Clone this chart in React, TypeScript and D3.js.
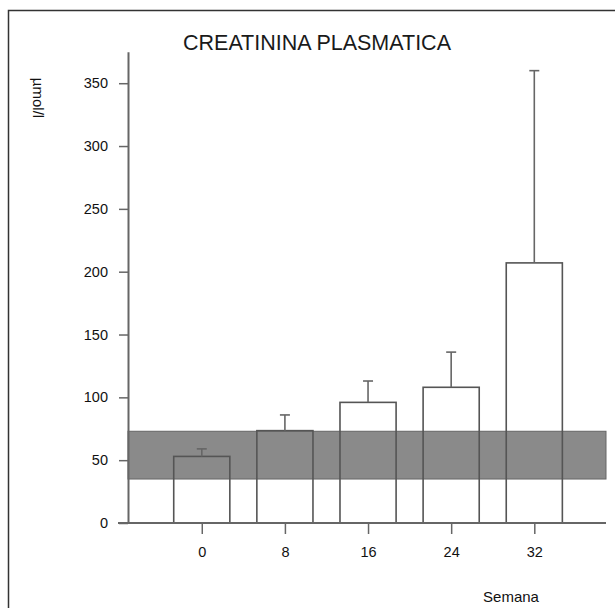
import * as d3 from "d3";
import { useEffect, useRef } from "react";

const weeks = [0, 8, 16, 24, 32];
const means = [53, 73.5, 96, 108, 207];
const sds = [6, 12.5, 17, 28, 153];
const yTicks = [0, 50, 100, 150, 200, 250, 300, 350];
const normalRange = [35, 73];

const App = () => {
  const ref = useRef<SVGSVGElement>(null);

  const width = 615;
  const height = 608;

  useEffect(() => {
    const svg = d3.select(ref.current);
    svg.selectAll("*").remove();

    const font = "'Liberation Sans', Arial, Helvetica, sans-serif";

    // x in weeks, y in umol/l
    const x = d3.scaleLinear().domain([-7.1, 38.9]).range([128, 606]);
    const y = d3.scaleLinear().domain([0, 375]).range([523, 51.8]);
    const barW = x(5.4) - x(0);

    // frame of the scanned figure
    svg.append("path")
      .attr("d", `M8.5,${height} V10.5 H${width}`)
      .attr("fill", "none")
      .attr("stroke", "#333")
      .attr("stroke-width", 1.5);

    svg.append("text")
      .attr("x", 317)
      .attr("y", 50)
      .attr("text-anchor", "middle")
      .attr("font-family", font)
      .attr("font-size", 21.5)
      .attr("fill", "#1a1a1a")
      .text("CREATININA PLASMATICA");

    // reference band
    svg.append("rect")
      .attr("x", x.range()[0])
      .attr("y", y(normalRange[1]))
      .attr("width", x.range()[1] - x.range()[0])
      .attr("height", y(normalRange[0]) - y(normalRange[1]))
      .attr("fill", "#8a8a8a")
      .attr("stroke", "#666")
      .attr("stroke-width", 1);

    // bars, drawn as outlines
    svg.append("g")
      .selectAll("rect")
      .data(weeks)
      .join("rect")
      .attr("x", (d) => x(d) - barW / 2)
      .attr("y", (d, i) => y(means[i]))
      .attr("width", barW)
      .attr("height", (d, i) => y(0) - y(means[i]))
      .attr("fill", "none")
      .attr("stroke", "#555")
      .attr("stroke-width", 1.6);

    // error bars (upper only)
    const err = svg.append("g").attr("stroke", "#666").attr("stroke-width", 1.6);
    weeks.forEach((w, i) => {
      err.append("line")
        .attr("x1", x(w)).attr("x2", x(w))
        .attr("y1", y(means[i])).attr("y2", y(means[i] + sds[i]));
      err.append("line")
        .attr("x1", x(w) - 5).attr("x2", x(w) + 5)
        .attr("y1", y(means[i] + sds[i])).attr("y2", y(means[i] + sds[i]));
    });

    // y axis
    const gy = svg.append("g")
      .attr("transform", `translate(${x.range()[0]},0)`)
      .call(d3.axisLeft(y).tickValues(yTicks).tickSize(9).tickPadding(11).tickSizeOuter(0));
    gy.select(".domain").attr("stroke", "#666").attr("stroke-width", 2);
    gy.selectAll(".tick line").attr("stroke", "#666").attr("stroke-width", 1.5);
    gy.selectAll(".tick text")
      .attr("font-family", font)
      .attr("font-size", 14.5)
      .attr("fill", "#111");

    // x axis
    const gx = svg.append("g")
      .attr("transform", `translate(0,${y(0)})`)
      .call(d3.axisBottom(x).tickValues(weeks).tickSize(11).tickPadding(13).tickSizeOuter(0));
    gx.select(".domain").attr("stroke", "#666").attr("stroke-width", 2)
      .attr("d", `M${x.range()[0] - 10},0H${x.range()[1]}`);
    gx.selectAll(".tick line").attr("stroke", "#666").attr("stroke-width", 1.5);
    gx.selectAll(".tick text")
      .attr("font-family", font)
      .attr("font-size", 14.5)
      .attr("fill", "#111");

    svg.append("text")
      .attr("x", 511)
      .attr("y", 602)
      .attr("text-anchor", "middle")
      .attr("font-family", font)
      .attr("font-size", 15)
      .attr("fill", "#111")
      .text("Semana");

    svg.append("text")
      .attr("transform", "translate(33,98) rotate(90)")
      .attr("text-anchor", "middle")
      .attr("font-family", font)
      .attr("font-size", 15)
      .attr("fill", "#111")
      .text("µmol/l");
  }, []);

  return (
    <svg
      ref={ref}
      width={width}
      height={height}
      style={{ position: "absolute", left: 0, top: 0, background: "#fff" }}
    />
  );
};

export default App;
